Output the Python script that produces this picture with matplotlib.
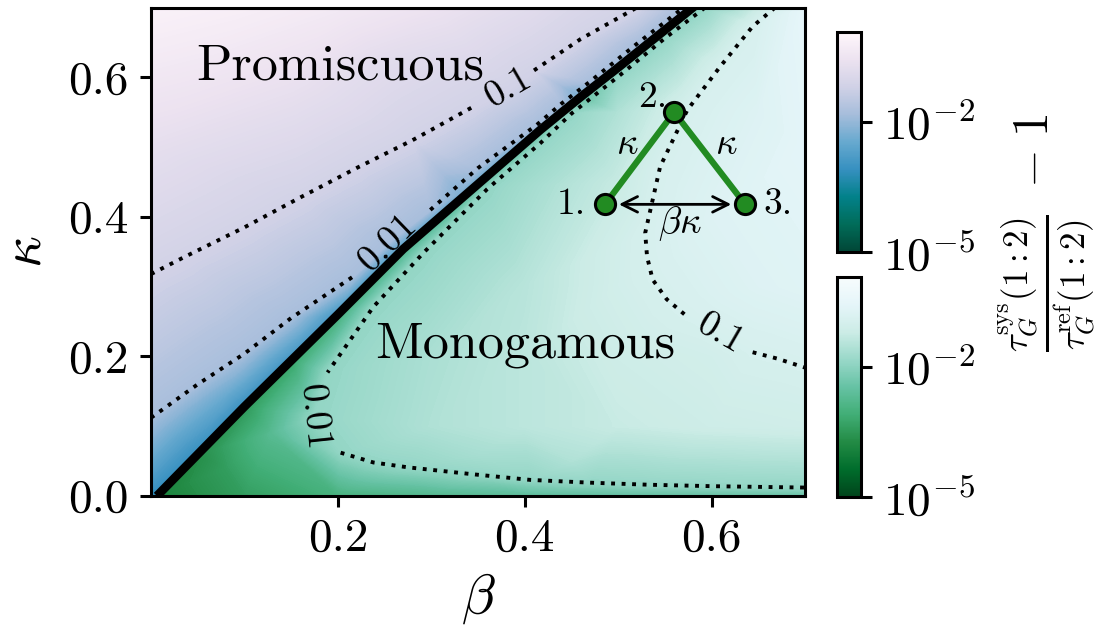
import numpy as np
import matplotlib
matplotlib.use("Agg")
import matplotlib.pyplot as plt
import matplotlib.tri as mtri
from matplotlib.colors import LogNorm, Normalize
from matplotlib.patches import Polygon
from matplotlib.cm import ScalarMappable

plt.rcParams['font.family'] = 'serif'
plt.rcParams['font.serif'] = ['cmr10', 'DejaVu Serif']
plt.rcParams['mathtext.fontset'] = 'cm'
plt.rcParams['axes.formatter.use_mathtext'] = True

# ---------------- data ----------------
# phase boundary (thick black line)
line_beta = [0.0064, 0.05, 0.10, 0.15, 0.20, 0.27, 0.35, 0.417, 0.46, 0.50, 0.54, 0.58, 0.60]
line_kappa = [0.0, 0.0596, 0.128, 0.194, 0.26, 0.354, 0.447, 0.525, 0.572, 0.614, 0.657, 0.70, 0.722]

# contours in promiscuous region (above line)
up01_a_beta = [0.0, 0.035, 0.10, 0.16, 0.22, 0.28, 0.345]
up01_a_kappa = [0.318, 0.342, 0.385, 0.428, 0.47, 0.51, 0.558]
up01_b_beta = [0.41, 0.46, 0.52]
up01_b_kappa = [0.61, 0.655, 0.70]

up001_a_beta = [0.0, 0.05, 0.10, 0.15, 0.217]
up001_a_kappa = [0.112, 0.16, 0.204, 0.255, 0.315]
up001_b_beta = [0.299, 0.35, 0.413, 0.44, 0.47, 0.495, 0.52, 0.545, 0.57]
up001_b_kappa = [0.41, 0.47, 0.532, 0.563, 0.594, 0.621, 0.648, 0.674, 0.70]

# contours in monogamous region (below line)
lo001_a_beta = [0.593, 0.55, 0.50, 0.45, 0.417, 0.36, 0.292, 0.238, 0.189]
lo001_a_kappa = [0.70, 0.656, 0.601, 0.548, 0.506, 0.44, 0.349, 0.271, 0.177]
lo001_b_beta = [0.203, 0.238, 0.275, 0.345, 0.406, 0.47, 0.534, 0.60, 0.70]
lo001_b_kappa = [0.062, 0.048, 0.041, 0.031, 0.023, 0.019, 0.016, 0.014, 0.012]

lo01_a_beta = [0.668, 0.644, 0.609, 0.574, 0.545, 0.529, 0.531, 0.537, 0.552, 0.574]
lo01_a_kappa = [0.70, 0.673, 0.615, 0.553, 0.472, 0.377, 0.343, 0.310, 0.282, 0.257]
lo01_b_beta = [0.644, 0.67, 0.70]
lo01_b_kappa = [0.206, 0.197, 0.184]

# contour-label positions (also points on the contours)
label_beta = [0.383, 0.254, 0.174, 0.609]
label_kappa = [0.585, 0.363, 0.113, 0.232]
label_text = ['0.1', '0.01', '0.01', '0.1']
label_rot = [30, 44, -84, -30]

# log10 of the colour value read along each curve and at extra points
up_line_log = [-3.2, -3.15, -3.1, -3.0, -2.95, -2.8, -2.6, -2.45, -2.35, -2.25, -2.2, -2.1, -2.1]
up_c001_log = -1.8
up_c01_log = -1.15
up_extra_beta = [0.0, 0.0, 0.0, 0.1, 0.2, 0.3, 0.4, 0.46,
                 0.0, 0.08, 0.16, 0.25, 0.33, 0.05, 0.15, 0.25]
up_extra_kappa = [0.0, 0.5, 0.7, 0.7, 0.7, 0.7, 0.7, 0.7,
                  0.056, 0.145, 0.236, 0.345, 0.435, 0.6, 0.6, 0.62]
up_extra_log = [-3.2, -0.7, -0.1, -0.2, -0.35, -0.55, -0.8, -1.0,
                -2.45, -2.45, -2.4, -2.3, -2.2, -0.45, -0.6, -0.8]

lo_line_log = [-3.9, -3.7, -3.5, -3.3, -3.1, -2.95, -2.75, -2.6, -2.5, -2.45, -2.35, -2.3, -2.3]
lo_c001_log = -1.9
lo_c01_log = -0.95
lo_extra_beta = [0.1, 0.2, 0.3, 0.4, 0.5, 0.6, 0.7, 0.08, 0.13,
                 0.3, 0.3, 0.4, 0.4, 0.4, 0.5, 0.5, 0.5, 0.5, 0.5, 0.6, 0.7,
                 0.6, 0.65, 0.7, 0.7, 0.7, 0.65, 0.6, 0.45, 0.35]
lo_extra_kappa = [0.0, 0.0, 0.0, 0.0, 0.0, 0.0, 0.0, 0.04, 0.09,
                  0.1, 0.2, 0.1, 0.2, 0.3, 0.1, 0.2, 0.3, 0.45, 0.55, 0.1, 0.1,
                  0.4, 0.3, 0.3, 0.5, 0.7, 0.55, 0.2, 0.05, 0.06]
lo_extra_log = [-3.4, -3.0, -2.8, -2.65, -2.55, -2.5, -2.45, -3.4, -2.7,
                -1.55, -1.6, -1.4, -1.4, -1.45, -1.25, -1.15, -1.05, -1.25, -1.55, -1.15, -1.1,
                -0.75, -0.75, -0.7, -0.6, -0.55, -0.75, -1.05, -1.55, -1.65]

vmin, vmax = 1e-5, 1.2
xticks = [0.2, 0.4, 0.6]
yticks = [0.0, 0.2, 0.4, 0.6]
cbar_ticks = [1e-5, 1e-2]

# ---------------- figure ----------------
fig = plt.figure(figsize=(10.98, 6.35), dpi=100)
ax = fig.add_axes([0.1375, 0.219, 0.5956, 0.769])
cax1 = fig.add_axes([0.7623, 0.6031, 0.0219, 0.3465])
cax2 = fig.add_axes([0.7623, 0.2173, 0.0219, 0.3465])

cmap_up = plt.get_cmap('PuBuGn_r')
cmap_lo = plt.get_cmap('BuGn_r')
lin = Normalize(np.log10(vmin), np.log10(vmax))
levels = np.linspace(np.log10(vmin), np.log10(vmax), 240)


def region(bs, ks, vs, cmap, clip):
    tri = mtri.Triangulation(np.array(bs), np.array(ks))
    cs = ax.tricontourf(tri, np.array(vs), levels=levels, cmap=cmap, norm=lin,
                        extend='both', antialiased=False)
    poly = Polygon(clip, closed=True, transform=ax.transData)
    cs.set_clip_path(poly)
    return cs


up_b = (line_beta + up01_a_beta + up01_b_beta + up001_a_beta + up001_b_beta
        + [label_beta[0], label_beta[1]] + up_extra_beta)
up_k = (line_kappa + up01_a_kappa + up01_b_kappa + up001_a_kappa + up001_b_kappa
        + [label_kappa[0], label_kappa[1]] + up_extra_kappa)
up_v = (up_line_log + [up_c01_log] * (len(up01_a_beta) + len(up01_b_beta))
        + [up_c001_log] * (len(up001_a_beta) + len(up001_b_beta))
        + [up_c01_log, up_c001_log] + up_extra_log)
clip_up = [(0.0, 0.0)] + list(zip(line_beta, line_kappa)) + [(0.0, 0.75)]
region(up_b, up_k, up_v, cmap_up, clip_up)

lo_b = (line_beta + lo001_a_beta + lo001_b_beta + lo01_a_beta + lo01_b_beta
        + [label_beta[2], label_beta[3]] + lo_extra_beta)
lo_k = (line_kappa + lo001_a_kappa + lo001_b_kappa + lo01_a_kappa + lo01_b_kappa
        + [label_kappa[2], label_kappa[3]] + lo_extra_kappa)
lo_v = (lo_line_log + [lo_c001_log] * (len(lo001_a_beta) + len(lo001_b_beta))
        + [lo_c01_log] * (len(lo01_a_beta) + len(lo01_b_beta))
        + [lo_c001_log, lo_c01_log] + lo_extra_log)
clip_lo = list(zip(line_beta, line_kappa)) + [(0.75, 0.75), (0.75, 0.0)]
region(lo_b, lo_k, lo_v, cmap_lo, clip_lo)

# contour lines
dot = dict(color='k', lw=2.8, linestyle=(0, (1, 1.7)), zorder=4)
for b, k in [(up01_a_beta, up01_a_kappa), (up01_b_beta, up01_b_kappa),
             (up001_a_beta, up001_a_kappa), (up001_b_beta, up001_b_kappa),
             (lo001_a_beta, lo001_a_kappa), (lo001_b_beta, lo001_b_kappa),
             (lo01_a_beta, lo01_a_kappa), (lo01_b_beta, lo01_b_kappa)]:
    ax.plot(b, k, **dot)

for b, k, t, r in zip(label_beta, label_kappa, label_text, label_rot):
    ax.text(b, k, t, rotation=r, fontsize=27, ha='center', va='center',
            rotation_mode='anchor', zorder=5)

# phase boundary
ax.plot(line_beta, line_kappa, color='k', lw=6.3, solid_capstyle='butt',
        solid_joinstyle='round', zorder=6)

# region names
ax.text(0.048, 0.597, 'Promiscuous', fontsize=37.5, ha='left', va='baseline', zorder=5)
ax.text(0.240, 0.199, 'Monogamous', fontsize=37.5, ha='left', va='baseline', zorder=5)

# inset triangle
nodes_beta = [0.486, 0.560, 0.636]
nodes_kappa = [0.418, 0.550, 0.418]
ax.plot(nodes_beta, nodes_kappa, color='#228b22', lw=4.5, zorder=7, solid_capstyle='round')
ax.annotate('', xy=(nodes_beta[2], nodes_kappa[2]), xytext=(nodes_beta[0], nodes_kappa[0]),
            arrowprops=dict(arrowstyle='<->', lw=2.0, color='k', shrinkA=10, shrinkB=10,
                            mutation_scale=28), zorder=7)
ax.scatter(nodes_beta, nodes_kappa, s=210, c='#228b22', edgecolors='k', linewidths=2.2, zorder=8)
ax.text(0.466, 0.418, '1.', fontsize=27, ha='right', va='center', zorder=8)
ax.text(0.553, 0.572, '2.', fontsize=27, ha='right', va='center', zorder=8)
ax.text(0.656, 0.418, '3.', fontsize=27, ha='left', va='center', zorder=8)
ax.text(0.51, 0.504, r'$\kappa$', fontsize=27, ha='center', va='center', zorder=8)
ax.text(0.616, 0.504, r'$\kappa$', fontsize=27, ha='center', va='center', zorder=8)
ax.text(0.566, 0.390, r'$\beta\kappa$', fontsize=27, ha='center', va='center', zorder=8)

ax.set_xlim(0.0, 0.7)
ax.set_ylim(0.0, 0.7)
ax.set_xticks(xticks)
ax.set_yticks(yticks)
ax.set_xticklabels(['%.1f' % t for t in xticks])
ax.set_yticklabels(['%.1f' % t for t in yticks])
ax.tick_params(labelsize=34, length=8, width=2.2, direction='out', pad=8)
for s in ax.spines.values():
    s.set_linewidth(2.2)
ax.set_xlabel(r'$\beta$', fontsize=40, labelpad=8)
ax.set_ylabel(r'$\kappa$', fontsize=40, labelpad=12)

# colorbars
for cax, cmap in [(cax1, cmap_up), (cax2, cmap_lo)]:
    sm = ScalarMappable(norm=LogNorm(vmin, vmax), cmap=cmap)
    cb = fig.colorbar(sm, cax=cax)
    cb.set_ticks(cbar_ticks)
    cb.minorticks_off()
    cb.outline.set_linewidth(2.2)
    cax.tick_params(labelsize=34, length=8, width=2.2, pad=8)

# colour-bar label: fraction and "- 1"
fig.text(0.9536, 0.554,
         r'$\frac{\tau_G^{\rm sys}(1:2)}{\tau_G^{\rm ref}(1:2)}$',
         rotation=90, fontsize=36, ha='center', va='center')
fig.text(0.9425, 0.762, r'$-\;1$', rotation=90, fontsize=36, ha='center', va='center')

fig.savefig('out.png', dpi=100)
